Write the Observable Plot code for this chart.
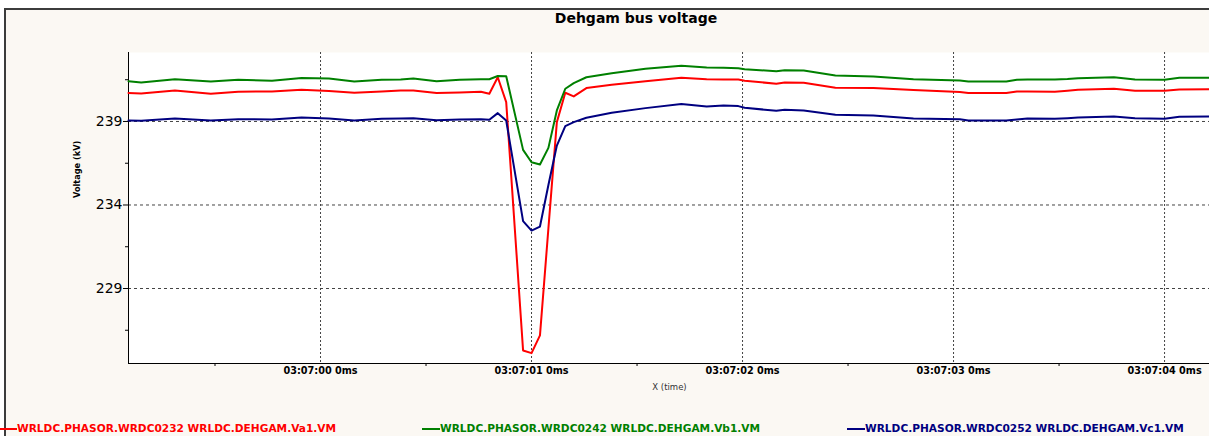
<!DOCTYPE html>
<html>
<head>
<meta charset="utf-8">
<script src="https://cdn.jsdelivr.net/npm/d3@7"></script>
<script src="https://cdn.jsdelivr.net/npm/@observablehq/plot@0.6"></script>
<style>
  html, body { margin: 0; padding: 0; background: #ffffff; width: 1209px; height: 436px; overflow: hidden; }
  #frame { position: absolute; left: 4px; top: 8px; width: 1300px; height: 500px; border-left: 2px solid #3c3c3c; border-top: 2px solid #3c3c3c; background: #fbf8f3; }
  #title { position: absolute; left: 0; top: 10px; width: 1272px; text-align: center; font: bold 14px "DejaVu Sans"; line-height: 16px; color: #000; }
  #chart { position: absolute; left: 0; top: 0; }
  .leg { position: absolute; top: 421px; height: 14px; font: bold 10.6px "DejaVu Sans"; line-height: 14px; white-space: nowrap; }
  .leg span.sw { display: inline-block; width: 18px; height: 2px; vertical-align: middle; margin-top: -1px; }
</style>
</head>
<body>
<div id="frame"></div>
<div id="title">Dehgam bus voltage</div>
<div id="chart"></div>
<div id="legend"></div>
<script>
// seconds after 03:07:00
const times = [-0.91,-0.85,-0.69,-0.52,-0.39,-0.23,-0.09,0.04,0.16,0.29,0.38,0.44,0.55,0.66,0.76,0.80,0.84,0.88,0.96,1.00,1.04,1.08,1.12,1.16,1.20,1.26,1.38,1.54,1.71,1.83,1.91,1.98,2.01,2.16,2.20,2.29,2.44,2.62,2.81,3.03,3.07,3.25,3.30,3.35,3.48,3.54,3.59,3.76,3.86,4.00,4.07,4.21];
const va = [240.70,240.68,240.86,240.66,240.78,240.80,240.90,240.82,240.72,240.80,240.86,240.86,240.70,240.74,240.78,240.66,241.65,240.16,225.29,225.13,226.19,232.60,238.96,240.72,240.50,241.00,241.20,241.41,241.62,241.53,241.52,241.51,241.44,241.26,241.34,241.32,241.02,241.00,240.88,240.76,240.70,240.70,240.80,240.80,240.78,240.84,240.90,240.96,240.84,240.84,240.92,240.93];
const vb = [241.41,241.34,241.53,241.40,241.50,241.44,241.60,241.57,241.40,241.50,241.51,241.57,241.41,241.50,241.53,241.53,241.72,241.71,237.30,236.56,236.42,237.42,239.66,240.96,241.30,241.65,241.89,242.16,242.33,242.23,242.21,242.19,242.13,242.01,242.07,242.05,241.75,241.69,241.53,241.46,241.40,241.40,241.50,241.51,241.52,241.54,241.59,241.65,241.51,241.50,241.62,241.62];
const vc = [239.06,239.04,239.18,239.06,239.14,239.12,239.24,239.18,239.06,239.16,239.18,239.20,239.08,239.12,239.14,239.10,239.50,239.06,233.03,232.47,232.71,235.20,237.56,238.72,238.96,239.22,239.52,239.80,240.04,239.90,239.96,239.92,239.82,239.64,239.70,239.66,239.40,239.36,239.18,239.14,239.06,239.06,239.12,239.18,239.16,239.20,239.24,239.30,239.20,239.16,239.28,239.30];
const seriesNames = ["WRLDC.PHASOR.WRDC0232 WRLDC.DEHGAM.Va1.VM", "WRLDC.PHASOR.WRDC0242 WRLDC.DEHGAM.Vb1.VM", "WRLDC.PHASOR.WRDC0252 WRLDC.DEHGAM.Vc1.VM"];
const seriesColors = ["#ff0000", "#008000", "#000080"];
const yTicks = [229, 234, 239];
const yMinorTicks = [226.5, 231.5, 236.5, 241.5];
const xTicks = [0, 1, 2, 3, 4];
const xTickLabels = ["03:07:00 0ms", "03:07:01 0ms", "03:07:02 0ms", "03:07:03 0ms", "03:07:04 0ms"];
const xMinorTicks = [-0.5, 0.5, 1.5, 2.5, 3.5];
const yLabel = "Voltage (kV)";
const xLabel = "X (time)";

const xDomain = [-0.91, 4.213];
const yDomain = [224.51, 243.13];

const seriesValues = [va, vb, vc];
const rows = [];
seriesValues.forEach((vals, s) => {
  vals.forEach((v, i) => rows.push({t: times[i], v, s: seriesNames[s]}));
});

const plot = Plot.plot({
  width: 1209,
  height: 400,
  marginTop: 52,
  marginBottom: 37,
  marginLeft: 128,
  marginRight: 0,
  style: {background: "transparent", overflow: "visible", fontFamily: "DejaVu Sans", color: "#000"},
  x: {domain: xDomain, axis: null},
  y: {domain: yDomain, axis: null},
  color: {domain: seriesNames, range: seriesColors},
  marks: [
    Plot.frame({fill: "#ffffff", stroke: null}),
    Plot.gridY(yTicks, {stroke: "#444", strokeOpacity: 1, strokeDasharray: "3,3", strokeWidth: 1}),
    Plot.gridX(xTicks, {stroke: "#444", strokeOpacity: 1, strokeDasharray: "2,2", strokeWidth: 1}),
    Plot.ruleX([xDomain[0]], {stroke: "#000", strokeWidth: 1}),
    Plot.ruleY([yDomain[0]], {stroke: "#000", strokeWidth: 1}),
    Plot.axisY(yTicks, {tickSize: 5, tickPadding: 1, fontSize: 14, fontFamily: "DejaVu Sans", fill: "#000", stroke: "#000", label: null}),
    Plot.axisY(yMinorTicks, {tickSize: 3, tickFormat: () => "", stroke: "#000", label: null}),
    Plot.axisX(xTicks, {tickSize: 0, tickPadding: 4, tickFormat: (d) => xTickLabels[xTicks.indexOf(d)], fontSize: 9.7, fontWeight: "bold", fontFamily: "DejaVu Sans", fill: "#000", label: null}),
    Plot.axisX(xMinorTicks, {tickSize: 3, tickFormat: () => "", stroke: "#000", label: null}),
    Plot.text([yLabel], {frameAnchor: "left", dx: -51, dy: -10, rotate: -90, fontSize: 8.2, fontWeight: "bold", fontFamily: "DejaVu Sans", fill: "#000"}),
    Plot.text([xLabel], {frameAnchor: "bottom", dx: 0.5, dy: 26, fontSize: 8.5, fontFamily: "DejaVu Sans", fill: "#333"}),
    ...seriesNames.map((name) => Plot.lineY(rows.filter(r => r.s === name), {x: "t", y: "v", stroke: "s", strokeWidth: 2, curve: "linear"}))
  ]
});
document.getElementById("chart").appendChild(plot);

const legend = document.getElementById("legend");
const legendLeft = [-1, 422, 847];
seriesNames.forEach((name, i) => {
  const d = document.createElement("div");
  d.className = "leg";
  d.style.left = legendLeft[i] + "px";
  d.style.color = seriesColors[i];
  const sw = document.createElement("span");
  sw.className = "sw";
  sw.style.background = seriesColors[i];
  d.appendChild(sw);
  d.appendChild(document.createTextNode(name));
  legend.appendChild(d);
});
</script>
</body>
</html>
